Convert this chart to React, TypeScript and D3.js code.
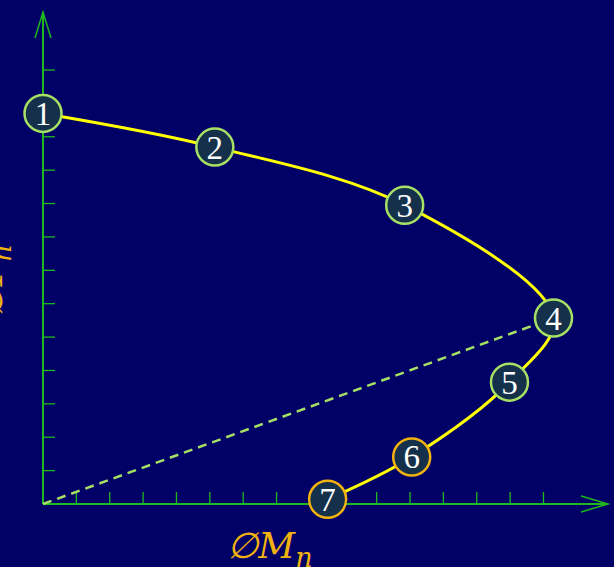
import React from "react";
import * as d3 from "d3";

const labels = ["1", "2", "3", "4", "5", "6", "7"];
const xValues = [0, 5.15, 10.84, 15.3, 13.98, 11.05, 8.53];
const yValues = [11.7, 10.69, 8.95, 5.57, 3.65, 1.41, 0.14];
const ringColors = ["#a6e065", "#a6e065", "#a6e065", "#a6e065", "#a6e065", "#f2b20f", "#f2b20f"];
const xTicks = d3.range(1, 16);
const yTicks = d3.range(1, 14);

const W = 614;
const H = 567;

export default function App() {
  const x = d3.scaleLinear().domain([0, 15]).range([43, 543.5]);
  const y = d3.scaleLinear().domain([0, 13]).range([504, 70]);
  const pts: [number, number][] = xValues.map((v, i) => [x(v), y(yValues[i])]);
  const line = d3.line().curve(d3.curveCatmullRom.alpha(0.5));
  const axisColor = "#1fb81f";
  const x0 = x(0);
  const y0 = y(0);
  return (
    <svg width={W} height={H} style={{ position: "absolute", left: 0, top: 0, background: "#000066" }}>
      <rect width={W} height={H} fill="#000066" />
      {/* axes */}
      <line x1={x0} y1={y0} x2={x0} y2={12} stroke={axisColor} strokeWidth={2} />
      <line x1={x0} y1={y0} x2={608} y2={y0} stroke={axisColor} strokeWidth={2} />
      <polyline points={`35,38 ${x0},12 51,38`} fill="none" stroke={axisColor} strokeWidth={1.5} />
      <polyline points={`581,496 608,${y0} 581,512`} fill="none" stroke={axisColor} strokeWidth={1.5} />
      {xTicks.map((t) => (
        <line key={"xt" + t} x1={x(t)} x2={x(t)} y1={y0} y2={y0 - 12} stroke={axisColor} strokeWidth={1.3} />
      ))}
      {yTicks.map((t) => (
        <line key={"yt" + t} x1={x0} x2={x0 + 12} y1={y(t)} y2={y(t)} stroke={axisColor} strokeWidth={1.3} />
      ))}
      {/* dashed line origin -> point 4 */}
      <line x1={x0} y1={y0} x2={pts[3][0]} y2={pts[3][1]} stroke="#a6e065" strokeWidth={2.5} strokeDasharray="9,6" />
      {/* interaction curve */}
      <path d={line(pts) || ""} fill="none" stroke="#ffff00" strokeWidth={3} />
      {pts.map((p, i) => (
        <g key={"p" + i}>
          <circle cx={p[0]} cy={p[1]} r={18.5} fill="#15304a" stroke={ringColors[i]} strokeWidth={2.5} />
          <text
            x={p[0]}
            y={p[1] + 11.5}
            textAnchor="middle"
            fill="#ffffff"
            fontFamily="Liberation Serif, serif"
            fontSize={33}
          >
            {labels[i]}
          </text>
        </g>
      ))}
      {/* axis labels */}
      <text x={270} y={558} textAnchor="middle" fill="#f2b20f" fontFamily="DejaVu Serif, serif" fontStyle="italic" fontSize={36}>
        ∅M<tspan fontSize={27} dy={9}>n</tspan>
      </text>
      <text
        transform="translate(2,281) rotate(-90)"
        textAnchor="middle"
        fill="#f2b20f"
        fontFamily="DejaVu Serif, serif"
        fontStyle="italic"
        fontSize={36}
      >
        ∅P<tspan fontSize={27} dy={9}>n</tspan>
      </text>
    </svg>
  );
}
